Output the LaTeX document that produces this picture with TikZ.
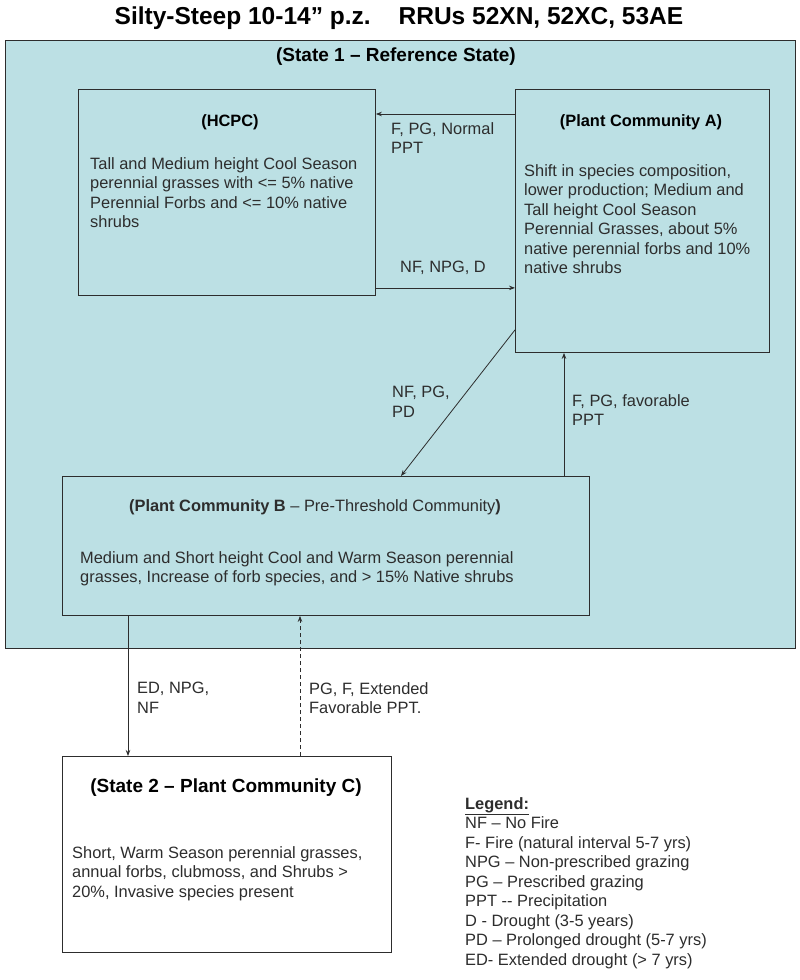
\documentclass[tikz,border=0pt]{standalone}
\usepackage{fontspec}
\setmainfont{Liberation Sans}
\usetikzlibrary{arrows.meta}
\definecolor{stateblue}{RGB}{188,224,228}
\definecolor{ink}{RGB}{45,45,45}
\begin{document}
\begin{tikzpicture}[x=1pt,y=-1pt,
  box/.style={draw=ink, line width=0.9pt, inner sep=0pt, anchor=north west},
  txt/.style={font=\fontsize{16.4}{19.5}\selectfont, text=ink, align=left, inner sep=0pt},
  ttl/.style={font=\fontsize{16.4}{19.5}\selectfont\bfseries, text=black, inner sep=0pt},
  bigttl/.style={font=\fontsize{19}{22}\selectfont\bfseries, text=black, inner sep=0pt},
  arr/.style={draw=ink, line width=0.8pt, -{Stealth[length=6pt,width=4.5pt]}}]
\useasboundingbox (0,0) rectangle (800,980);
\fill[white] (0,0) rectangle (800,980);

% title
\node[font=\fontsize{24.5}{28}\selectfont\bfseries, inner sep=0pt] (title) at (399,18)
  {Silty-Steep 10-14” p.z.\hspace{28pt}RRUs 52XN, 52XC, 53AE};

% state 1 frame
\node[box, fill=stateblue, minimum width=790pt, minimum height=608pt] (S1) at (5,40) {};
\node[bigttl] (S1t) at (396,57) {(State 1 – Reference State)};

% boxes
\node[box, minimum width=297pt, minimum height=206pt] (H) at (78,89) {};
\node[box, minimum width=254pt, minimum height=263pt] (A) at (515,89) {};
\node[box, minimum width=527pt, minimum height=139pt] (B) at (62,476) {};
\node[box, fill=white, minimum width=329pt, minimum height=196pt] (C) at (62,756) {};

% box texts
\node[ttl] (Ht) at (230,122) {(HCPC)};
\node[txt, anchor=north west] (Hb) at (90,157) {Tall and Medium height Cool Season\\perennial grasses with <= 5\% native\\Perennial Forbs and <= 10\% native\\shrubs};

\node[ttl] (At) at (641,122) {(Plant Community A)};
\node[txt, anchor=north west] (Ab) at (524,164) {Shift in species composition,\\lower production; Medium and\\Tall height Cool Season\\Perennial Grasses, about 5\%\\native perennial forbs and 10\%\\native shrubs};

\node[txt] (Bt) at (315,507) {\textbf{(Plant Community B} – Pre-Threshold Community\textbf{)}};
\node[txt, anchor=north west] (Bb) at (80,551) {Medium and Short height Cool and Warm Season perennial\\grasses, Increase of forb species, and > 15\% Native shrubs};

\node[bigttl] (Ct) at (226,788) {(State 2 – Plant Community C)};
\node[txt, anchor=north west] (Cb) at (72,846) {Short, Warm Season perennial grasses,\\annual forbs, clubmoss, and Shrubs >\\20\%, Invasive species present};

% legend
\node[txt, anchor=north west] (L) at (465,797) {\textbf{\underline{Legend:}}\\NF – No Fire\\F- Fire (natural interval 5-7 yrs)\\NPG – Non-prescribed grazing\\PG – Prescribed grazing\\PPT -{}- Precipitation\\D - Drought (3-5 years)\\PD – Prolonged drought (5-7 yrs)\\ED- Extended drought (> 7 yrs)};

% connector points
\path ([yshift=-25pt]A.north west) coordinate (a1);
\path ([yshift=8pt]H.south east) coordinate (h1);
\path ([yshift=23pt]A.south west) coordinate (a2);
\path ([xshift=339pt]B.north west) coordinate (b1);
\path ([xshift=502pt]B.north west) coordinate (b2);
\path ([xshift=66pt]B.south west) coordinate (b3);
\path ([xshift=238pt]C.north west) coordinate (c1);

% connectors
\draw[arr] (a1) -- (a1 -| H.east);
\draw[arr] (h1) -- (h1 -| A.west);
\draw[arr] (a2) -- (b1);
\draw[arr] (b2) -- (b2 |- A.south);
\draw[arr] (b3) -- (b3 |- C.north);
\draw[arr, dash pattern=on 4pt off 3pt] (c1) -- (c1 |- B.south);

% connector labels
\node[txt, anchor=north west] (l1) at (391,122) {F, PG, Normal\\PPT};
\node[txt] (l2) at (443,268) {NF, NPG, D};
\node[txt, anchor=north west] (l3) at (392,386) {NF, PG,\\PD};
\node[txt, anchor=north west] (l4) at (572,394) {F, PG, favorable\\PPT};
\node[txt, anchor=north west] (l5) at (137,682) {ED, NPG,\\NF};
\node[txt, anchor=north west] (l6) at (309,682) {PG, F, Extended\\Favorable PPT.};
\end{tikzpicture}
\end{document}
